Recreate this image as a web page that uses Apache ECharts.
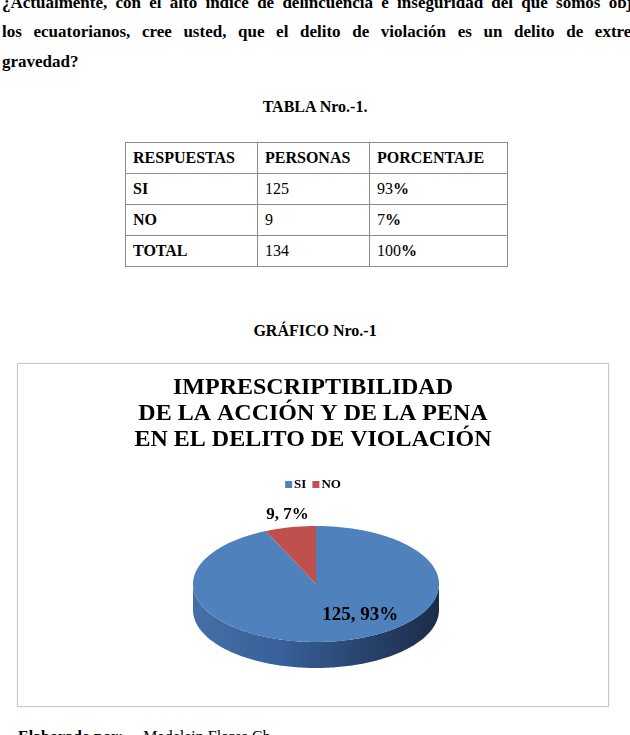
<!DOCTYPE html>
<html>
<head>
<meta charset="utf-8">
<script src="https://cdn.jsdelivr.net/npm/echarts@6/dist/echarts.min.js"></script>
<style>
  html, body { margin:0; padding:0; background:#fff; }
  body { width:630px; height:735px; position:relative; overflow:hidden; font-family:'Liberation Serif', Tinos, 'Times New Roman', serif; color:#000; }
  .line { position:absolute; left:2px; width:652px; font-family:'Liberation Serif'; font-weight:bold; font-size:17px; line-height:20px; white-space:nowrap; text-align:justify; text-align-last:justify; }
  .line.last { text-align-last:left; }
  .cap { position:absolute; left:0; width:630px; text-align:center; font-family:'Liberation Serif'; font-weight:bold; font-size:16px; }
  table { position:absolute; left:125px; top:142px; border-collapse:collapse; font-family:'Liberation Serif'; font-size:16px; }
  td { border:1px solid #8c8c8c; height:30px; padding:0 0 0 7px; vertical-align:middle; }
  .b { font-weight:bold; }
  #frame { position:absolute; left:17px; top:363px; width:590px; height:342px; border:1px solid #c8c8c8; box-shadow:0 0 1px #ddd; }
  #chart { width:590px; height:342px; }
  .foot { position:absolute; left:18px; top:728px; font-family:'Liberation Serif'; font-size:16px; white-space:nowrap; }
</style>
</head>
<body>
<div class="line" style="top:-7px">¿Actualmente, con el alto índice de delincuencia e inseguridad del que somos objeto</div>
<div class="line" style="top:22px">los ecuatorianos, cree usted, que el delito de violación es un delito de extrema</div>
<div class="line last" style="top:52px">gravedad?</div>
<div class="cap" style="top:98px">TABLA Nro.-1.</div>
<table id="tbl"></table>
<div class="cap" style="top:322px">GRÁFICO Nro.-1</div>
<div id="frame"><div id="chart"></div></div>
<div class="foot"><b>Elaborado por:</b>&nbsp;&nbsp;&nbsp;&nbsp; Madelein Flores Ch</div>
<script>
// ---- data ----
const headers = ['RESPUESTAS', 'PERSONAS', 'PORCENTAJE'];
const categories = ['SI', 'NO'];
const personas = [125, 9];
const porcentajes = [93, 7];
const totalLabel = 'TOTAL';
const totalPersonas = 134;
const totalPorcentaje = 100;
const chartTitle = 'IMPRESCRIPTIBILIDAD\nDE LA ACCIÓN Y DE LA PENA\nEN EL DELITO DE VIOLACIÓN';

// ---- table ----
const colW = [132, 112, 138];
let html = '<tr>' + headers.map((h, i) => `<td class="b" style="width:${colW[i]-8}px">${h}</td>`).join('') + '</tr>';
categories.forEach((c, i) => {
  html += `<tr><td class="b">${c}</td><td>${personas[i]}</td><td>${porcentajes[i]}<b>%</b></td></tr>`;
});
html += `<tr><td class="b">${totalLabel}</td><td>${totalPersonas}</td><td>${totalPorcentaje}<b>%</b></td></tr>`;
document.getElementById('tbl').innerHTML = html;

// ---- chart ----
const FONT = 'Liberation Serif';
const colors = ['#4F81BD', '#C0504D'];
const total = personas.reduce((a, b) => a + b, 0);
const geo = { cx: 298, cy: 220, rx: 123, ry: 58, depth: 26 };
function pt(theta, dy) {
  return [geo.cx + geo.rx * Math.sin(theta), geo.cy - geo.ry * Math.cos(theta) + (dy || 0)];
}
function arcPts(a0, a1, dy) {
  const n = Math.max(2, Math.ceil(Math.abs(a1 - a0) / 0.02));
  const out = [];
  for (let k = 0; k <= n; k++) out.push(pt(a0 + (a1 - a0) * k / n, dy));
  return out;
}
const labelCfg = [
  { r: 0.55, dx: 30, dy: 0, size: 19 },
  { r: 1.22, dx: 3, dy: 0, size: 17 }
];
function makeSeries(i) {
  return {
    type: 'custom',
    name: categories[i],
    coordinateSystem: 'none',
    itemStyle: { color: colors[i] },
    z: i === 0 ? 2 : 3,
    data: [[personas[i], porcentajes[i]]],
    renderItem: function (params, api) {
      const before = personas.slice(0, i).reduce((a, b) => a + b, 0);
      const a0 = before / total * Math.PI * 2;
      const a1 = (before + api.value(0)) / total * Math.PI * 2;
      const children = [];
      const s0 = Math.max(a0, Math.PI / 2), s1 = Math.min(a1, Math.PI * 1.5);
      if (s1 > s0) {
        const top = arcPts(s0, s1, 0);
        const bot = arcPts(s1, s0, geo.depth);
        children.push({
          type: 'polygon',
          shape: { points: top.concat(bot) },
          style: {
            fill: i === 0 ? new echarts.graphic.LinearGradient(0, 0, 1, 0, [
              { offset: 0, color: '#4570a6' },
              { offset: 0.35, color: '#38609a' },
              { offset: 0.75, color: '#263f66' },
              { offset: 1, color: '#1b2c47' }
            ]) : '#8e3a38'
          }
        });
      }
      const face = [[geo.cx, geo.cy]].concat(arcPts(a0, a1, 0));
      children.push({ type: 'polygon', shape: { points: face }, style: { fill: colors[i] } });
      const mid = (a0 + a1) / 2;
      const lc = labelCfg[i];
      const lx = geo.cx + geo.rx * lc.r * Math.sin(mid) + lc.dx;
      const ly = geo.cy - geo.ry * lc.r * Math.cos(mid) + lc.dy;
      children.push({
        type: 'text',
        x: lx, y: ly,
        style: {
          text: api.value(0) + ', ' + api.value(1) + '%',
          fill: '#000', fontFamily: FONT, fontWeight: 'bold', fontSize: lc.size,
          align: 'center', verticalAlign: 'middle'
        }
      });
      return { type: 'group', children: children };
    }
  };
}
function draw() {
  const chart = echarts.init(document.getElementById('chart'));
  chart.setOption({
    animation: false,
    title: {
      text: chartTitle, left: 'center', top: 6,
      textStyle: { fontFamily: FONT, fontWeight: 'bold', fontSize: 24, lineHeight: 26, color: '#000' }
    },
    legend: {
      data: categories, top: 109, left: 'center',
      itemWidth: 7, itemHeight: 7, itemGap: 6, icon: 'rect',
      textStyle: { fontFamily: FONT, fontWeight: 'bold', fontSize: 13, color: '#000', padding: [0, 0, 0, -3] }
    },
    series: categories.map((c, i) => makeSeries(i))
  });
}
if (document.fonts && document.fonts.ready) { document.fonts.ready.then(draw); } else { draw(); }
</script>
</body>
</html>
